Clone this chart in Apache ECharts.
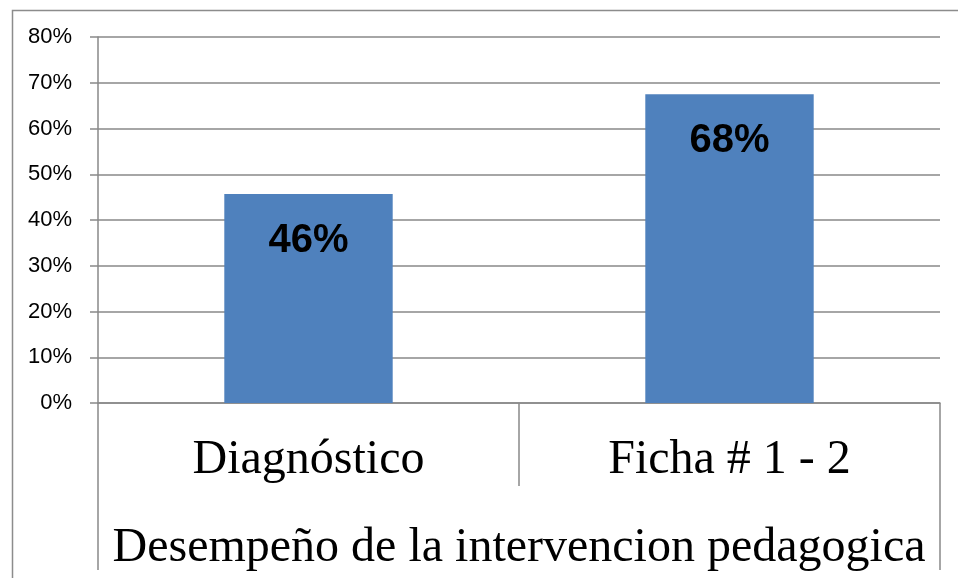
<!DOCTYPE html>
<html>
<head>
<meta charset="utf-8">
<script src="https://cdn.jsdelivr.net/npm/echarts@6/dist/echarts.min.js"></script>
<style>
  html, body { margin: 0; padding: 0; background: #fff; }
  #chart { width: 958px; height: 578px; }
</style>
</head>
<body>
<div id="chart"></div>
<script>
// datos
const categorias = ['Diagnóstico', 'Ficha # 1 - 2'];
const grupo = ['Desempeño de la intervencion pedagogica'];
const valores = [45.7, 67.5];
const ticksY = { min: 0, max: 80, interval: 10 };

const gris = '#898989';

let chart = echarts.init(document.getElementById('chart'));

let option = {
  backgroundColor: '#fff',
  animation: false,
  graphic: [
    {
      type: 'rect',
      left: 10, top: 8,
      shape: { width: 1000, height: 1000 },
      style: { fill: 'none', stroke: '#8c8c8c', lineWidth: 1.5 },
      silent: true
    }
  ],
  grid: { left: 98, right: 18, top: 37, bottom: 175 },
  xAxis: [
    {
      type: 'category',
      data: categorias,
      axisLine: { lineStyle: { color: gris, width: 1.5 } },
      axisTick: { show: true, length: 83, lineStyle: { color: gris, width: 1.5 } },
      axisLabel: {
        fontFamily: 'Liberation Serif',
        fontSize: 48,
        color: '#000',
        margin: 33
      }
    },
    {
      type: 'category',
      position: 'bottom',
      data: grupo,
      axisLine: { show: false },
      axisTick: { show: true, length: 167, lineStyle: { color: gris, width: 1.5 } },
      axisLabel: {
        fontFamily: 'Liberation Serif',
        fontSize: 48,
        color: '#000',
        margin: 121
      }
    }
  ],
  yAxis: {
    type: 'value',
    min: ticksY.min,
    max: ticksY.max,
    interval: ticksY.interval,
    axisLine: { show: true, lineStyle: { color: gris, width: 1.5 } },
    axisTick: { show: true, inside: false, length: 8, lineStyle: { color: gris, width: 1.5 } },
    splitLine: { lineStyle: { color: gris, width: 1.5 } },
    axisLabel: {
      formatter: '{value}%',
      fontFamily: 'Liberation Sans',
      fontSize: 22,
      color: '#000',
      margin: 26
    }
  },
  series: [
    {
      type: 'bar',
      xAxisIndex: 0,
      data: valores,
      barWidth: '40%',
      itemStyle: { color: '#4f81bd' },
      label: {
        show: true,
        position: 'insideTop',
        distance: 27,
        formatter: p => Math.round(p.value) + '%',
        fontFamily: 'Liberation Sans',
        fontWeight: 'bold',
        fontSize: 40,
        color: '#000'
      }
    }
  ]
};

chart.setOption(option);
</script>
</body>
</html>
